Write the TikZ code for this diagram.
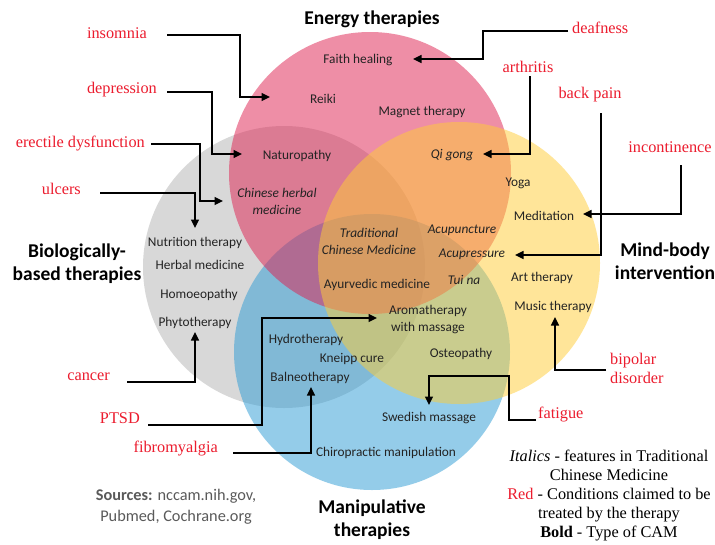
\documentclass[tikz,border=0pt]{standalone}
\usepackage{fontspec}
\setmainfont{Liberation Serif}
\newfontfamily\calfont{Carlito}
\usetikzlibrary{arrows.meta}
\definecolor{cgray}{RGB}{179,179,179}
\definecolor{cblue}{RGB}{43,155,213}
\definecolor{cpink}{RGB}{223,31,79}
\definecolor{cyellow}{RGB}{255,205,53}
\definecolor{condred}{RGB}{236,28,46}
\definecolor{srcgray}{RGB}{90,90,90}
\definecolor{lbltext}{RGB}{35,35,35}
\begin{document}
\begin{tikzpicture}[x=1pt,y=-1pt,
  lbl/.style={font=\calfont\fontsize{13.33}{16.5}\selectfont, text=lbltext, inner sep=0pt, align=center, yshift=-1.5pt},
  ilbl/.style={font=\calfont\itshape\fontsize{13.33}{16.5}\selectfont, text=lbltext, inner sep=0pt, align=center, yshift=-1.5pt},
  ttl/.style={font=\calfont\bfseries\fontsize{19.5}{23}\selectfont, inner sep=0pt, align=center, yshift=-1pt},
  cond/.style={font=\fontsize{16.3}{19}\selectfont, text=condred, inner sep=0pt, align=left},
  legend/.style={font=\fontsize{16.3}{19}\selectfont, inner sep=0pt, align=center},
  arr/.style={-{Triangle[length=8.5pt,width=8pt]}, line width=1.3pt},
  venn/.style={fill opacity=0.5},
]
\useasboundingbox (0,0) rectangle (715,544);
\fill[white] (0,0) rectangle (715,544);

% circles
\fill[venn, cgray]   (284,267) circle[radius=141pt];
\fill[venn, cblue]   (372,352) circle[radius=138pt];
\fill[venn, cpink]   (370,173) circle[radius=141pt];
\fill[venn, cyellow] (459,263) circle[radius=141pt];

% titles
\node[ttl] (energy) at (372,18) {Energy therapies};
\node[ttl] (bio) at (77,263) {Biologically-\\based therapies};
\node[ttl] (mind) at (665,260) {Mind-body\\intervention};
\node[ttl] (manip) at (372,519) {Manipulative\\therapies};

% inner labels
\node[lbl] (faith) at (358,59) {Faith healing};
\node[lbl] (reiki) at (323,97) {Reiki};
\node[lbl] (magnet) at (422,111) {Magnet therapy};
\node[lbl] (naturo) at (297,154) {Naturopathy};
\node[ilbl] (chherbal) at (277,200) {Chinese herbal\\medicine};
\node[ilbl] (qigong) at (452,154) {Qi gong};
\node[lbl] (yoga) at (518,182) {Yoga};
\node[lbl] (medit) at (544,214) {Meditation};
\node[ilbl] (tcm) at (369,240) {Traditional\\Chinese Medicine};
\node[ilbl] (acupunct) at (462,229) {Acupuncture};
\node[ilbl] (acupress) at (472,253) {Acupressure};
\node[ilbl] (tuina) at (464,278) {Tui na};
\node[lbl] (ayur) at (377,283) {Ayurvedic medicine};
\node[lbl] (nutri) at (195,241) {Nutrition therapy};
\node[lbl] (herbal) at (200,263) {Herbal medicine};
\node[lbl] (homoeo) at (199,293) {Homoeopathy};
\node[lbl] (phyto) at (195,321) {Phytotherapy};
\node[lbl] (art) at (542,276) {Art therapy};
\node[lbl] (music) at (553,305) {Music therapy};
\node[lbl] (aroma) at (428,318) {Aromatherapy\\with massage};
\node[lbl] (hydro) at (306,338) {Hydrotherapy};
\node[lbl] (kneipp) at (352,357) {Kneipp cure};
\node[lbl] (balneo) at (310,376) {Balneotherapy};
\node[lbl] (osteo) at (461,352) {Osteopathy};
\node[lbl] (swedish) at (429,417) {Swedish massage};
\node[lbl] (chiro) at (386,451) {Chiropractic manipulation};

% conditions
\node[cond, anchor=east] (insomnia) at (147,33) {insomnia};
\node[cond, anchor=east] (depression) at (157,90) {depression};
\node[cond, anchor=east] (erectile) at (145,144) {erectile dysfunction};
\node[cond, anchor=east] (ulcers) at (81,189) {ulcers};
\node[cond, anchor=west] (deafness) at (572,28) {deafness};
\node[cond] (arthritis) at (528,67) {arthritis};
\node[cond] (backpain) at (590,95) {back pain};
\node[cond] (incont) at (670,147) {incontinence};
\node[cond, anchor=east] (cancer) at (110,377) {cancer};
\node[cond, anchor=east] (ptsd) at (140,418) {PTSD};
\node[cond, anchor=east] (fibro) at (218,449) {fibromyalgia};
\node[cond, anchor=west] (bipolar) at (610,368) {bipolar\\disorder};
\node[cond, anchor=west] (fatigue) at (538,415) {fatigue};

% arrow tips
\coordinate (tReiki) at (270,97);
\coordinate (tNaturo) at (242,154);
\coordinate (tHerbal) at (223,201);
\coordinate (tNutri) at (195,228);
\coordinate (tFaith) at (413,59);
\coordinate (tQi) at (483,154);
\coordinate (tAcupress) at (515,255);
\coordinate (tMedit) at (583,214);
\coordinate (tPhyto) at (195,332);
\coordinate (tAroma) at (377,318);
\coordinate (tBalneo) at (311,387);
\coordinate (tMusic) at (555,317);
\coordinate (tSwedish) at (429,405);

% connectors
\draw[arr] ([xshift=20pt,yshift=-2pt]insomnia.east) -- (240,35) -- (240,97) -- (tReiki);
\draw[arr] ([xshift=10pt,yshift=-2pt]depression.east) -- (212,92) -- (212,154) -- (tNaturo);
\draw[arr] ([xshift=6pt]erectile.east) -- (200,144) -- (200,201) -- (tHerbal);
\draw[arr] ([xshift=19pt,yshift=-4pt]ulcers.east) -- (195,193) -- (tNutri);
\draw[arr] ([xshift=-4pt,yshift=-3pt]deafness.west) -- (483,31) -- (483,59) -- (tFaith);
\draw[arr] ([xshift=2pt,yshift=-9pt]arthritis.center) -- (530,154) -- (tQi);
\draw[arr] ([xshift=11pt,yshift=-18pt]backpain.center) -- (601,255) -- (tAcupress);
\draw[arr] ([xshift=11pt,yshift=-18pt]incont.center) -- (681,214) -- (tMedit);
\draw[arr] ([xshift=17pt,yshift=-5pt]cancer.east) -- (195,382) -- (tPhyto);
\draw[arr] ([xshift=8pt,yshift=-7pt]ptsd.east) -- (262,425) -- (262,318) -- (tAroma);
\draw[arr] ([xshift=15pt,yshift=-4pt]fibro.east) -- (311,453) -- (tBalneo);
\draw[arr] ([xshift=-4pt,yshift=-2pt]bipolar.west) -- (555,370) -- (tMusic);
\draw[arr] ([xshift=-2pt,yshift=-5pt]fatigue.west) -- (509,420) -- (509,376) -- (429,376) -- (tSwedish);

% sources
\node[font=\calfont\fontsize{16.3}{21}\selectfont, text=srcgray, align=center, inner sep=0pt] (sources) at (176,507) {\textbf{Sources:} nccam.nih.gov,\\Pubmed, Cochrane.org};

% legend
\node[legend] (legendtxt) at (609,496) {\textit{Italics} - features in Traditional\\Chinese Medicine\\\textcolor{condred}{Red} - Conditions claimed to be\\treated by the therapy\\\textbf{Bold} - Type of CAM};
\end{tikzpicture}
\end{document}
